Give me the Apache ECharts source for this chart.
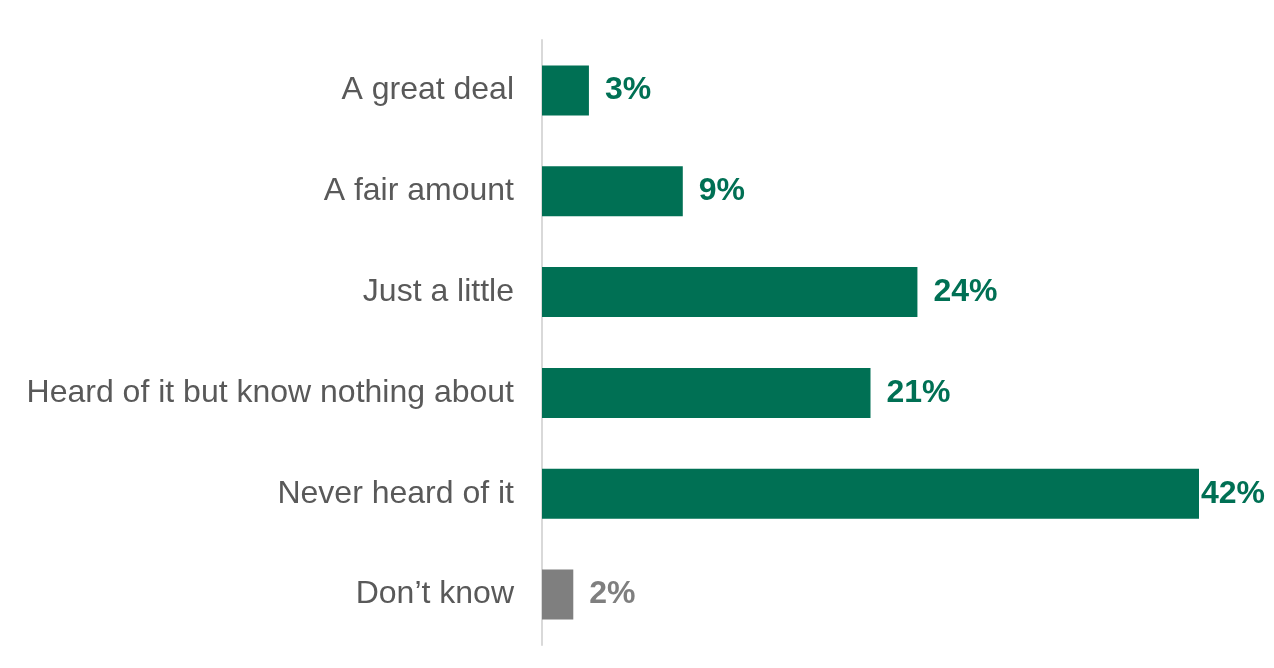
<!DOCTYPE html>
<html>
<head>
<meta charset="utf-8">
<script src="https://cdn.jsdelivr.net/npm/echarts@6/dist/echarts.min.js"></script>
<style>
html,body{margin:0;padding:0;background:#fff;}
#chart{width:1274px;height:668px;}
</style>
</head>
<body>
<div id="chart"></div>
<script>
const categories = ["A great deal", "A fair amount", "Just a little", "Heard of it but know nothing about", "Never heard of it", "Don\u2019t know"];
const values = [3, 9, 24, 21, 42, 2];
const barColors = ["#007054", "#007054", "#007054", "#007054", "#007054", "#7f7f7f"];
const labelDistances = [16, 16, 16, 16, 2, 16];

const chart = echarts.init(document.getElementById('chart'));
chart.setOption({
  animation: false,
  grid: { left: 542, right: 75, top: 40, bottom: 23 },
  xAxis: { type: 'value', min: 0, max: 42, show: false },
  yAxis: {
    type: 'category',
    inverse: true,
    data: categories,
    axisLine: { show: true, lineStyle: { color: '#d9d9d9', width: 2 } },
    axisTick: { show: false },
    axisLabel: { color: '#595959', fontSize: 32, fontFamily: 'Liberation Sans, Arial, sans-serif', margin: 28, padding: [4, 0, 0, 0] }
  },
  series: [{
    type: 'bar',
    barWidth: 50,
    data: values.map((v, i) => ({
      value: v,
      itemStyle: { color: barColors[i] },
      label: { color: barColors[i], distance: labelDistances[i] }
    })),
    label: {
      show: true,
      position: 'right',
      formatter: '{c}%',
      fontSize: 32,
      fontWeight: 'bold',
      padding: [4, 0, 0, 0],
      fontFamily: 'Liberation Sans, Arial, sans-serif'
    }
  }]
});
</script>
</body>
</html>
